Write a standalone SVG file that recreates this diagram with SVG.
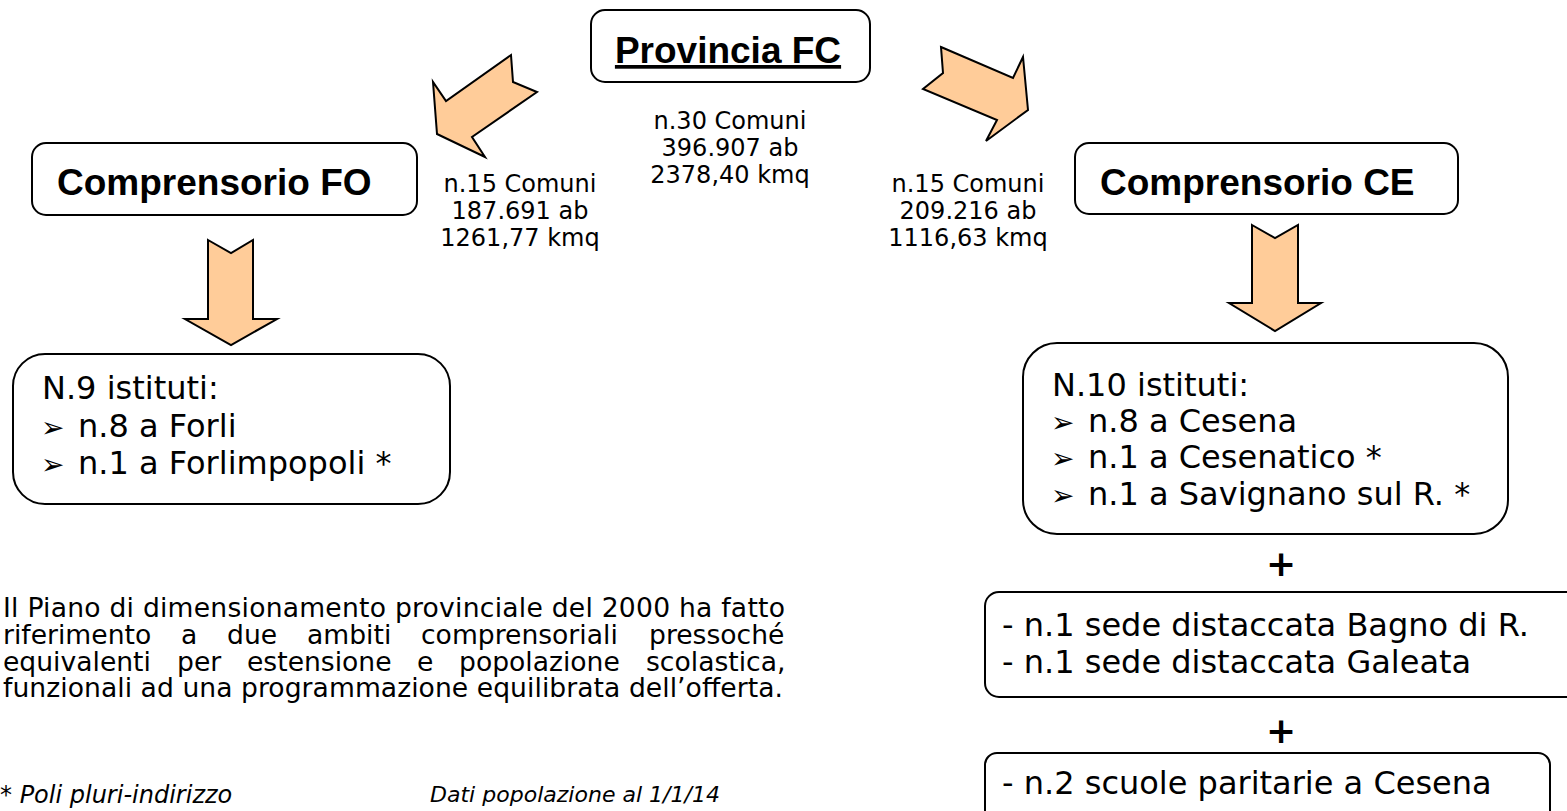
<svg xmlns="http://www.w3.org/2000/svg" width="1567" height="811" viewBox="0 0 1567 811">
<style>
.box{fill:#fff;stroke:#000;stroke-width:2}
.arrow{fill:#FFCC99;stroke:#000;stroke-width:2;stroke-linejoin:miter}
.title{font-family:"Liberation Sans",Arial,sans-serif;font-weight:bold;font-size:37px;fill:#000}
.info{font-family:"DejaVu Sans",Verdana,sans-serif;font-size:24px;fill:#000;text-anchor:middle}
.list{font-family:"DejaVu Sans",Verdana,sans-serif;font-size:32px;fill:#000}
.bul{font-size:28px}
.para{font-family:"DejaVu Sans",Verdana,sans-serif;font-size:26.6px;fill:#000}
.note{font-family:"DejaVu Sans",Verdana,sans-serif;font-style:italic;fill:#000}
.plus{font-family:"DejaVu Sans",Verdana,sans-serif;font-weight:bold;font-size:36px;fill:#000;text-anchor:middle}
</style>
<rect width="1567" height="811" fill="#fff"/>

<g id="connectors">
  <polygon class="arrow" points="437,134 433,82 446,101 511,55 513,82 537,92 472,137 485,157"/>
  <polygon class="arrow" points="941,47 1013,78 1023,57 1028,110 986,141 997,120 923,89 943,73"/>
  <polygon class="arrow" points="208,240 231,253 253,240 253,319 277,319 231,345 185,319 208,319"/>
  <polygon class="arrow" points="1252,225 1275,238 1298,225 1298,303 1321,303 1275,331 1229,303 1252,303"/>
</g>

<g id="provincia">
  <rect class="box" x="591" y="10" width="279" height="72" rx="14"/>
  <text class="title" x="728" y="63" text-anchor="middle" text-decoration="underline">Provincia FC</text>
</g>

<g id="info-fc">
  <text class="info" x="730" y="129">n.30 Comuni</text>
  <text class="info" x="730" y="156">396.907 ab</text>
  <text class="info" x="730" y="183">2378,40 kmq</text>
</g>

<g id="comprensorio-fo">
  <rect class="box" x="32" y="143" width="385" height="72" rx="14"/>
  <text class="title" x="57" y="195">Comprensorio FO</text>
</g>

<g id="info-fo">
  <text class="info" x="520" y="192">n.15 Comuni</text>
  <text class="info" x="520" y="219">187.691 ab</text>
  <text class="info" x="520" y="246">1261,77 kmq</text>
</g>

<g id="comprensorio-ce">
  <rect class="box" x="1075" y="143" width="383" height="71" rx="14"/>
  <text class="title" x="1100" y="195">Comprensorio CE</text>
</g>

<g id="info-ce">
  <text class="info" x="968" y="192">n.15 Comuni</text>
  <text class="info" x="968" y="219">209.216 ab</text>
  <text class="info" x="968" y="246">1116,63 kmq</text>
</g>

<g id="istituti-fo">
  <rect class="box" x="13" y="354" width="437" height="150" rx="32"/>
  <text class="list" x="42" y="399">N.9 istituti:</text>
  <text class="list" y="437"><tspan class="bul" x="41">➢</tspan><tspan x="78">n.8 a Forli</tspan></text>
  <text class="list" y="474"><tspan class="bul" x="41">➢</tspan><tspan x="78">n.1 a Forlimpopoli *</tspan></text>
</g>

<g id="istituti-ce">
  <rect class="box" x="1023" y="343" width="485" height="191" rx="34"/>
  <text class="list" x="1052" y="396">N.10 istituti:</text>
  <text class="list" y="432"><tspan class="bul" x="1051">➢</tspan><tspan x="1088">n.8 a Cesena</tspan></text>
  <text class="list" y="468"><tspan class="bul" x="1051">➢</tspan><tspan x="1088">n.1 a Cesenatico *</tspan></text>
  <text class="list" y="505"><tspan class="bul" x="1051">➢</tspan><tspan x="1088">n.1 a Savignano sul R. *</tspan></text>
</g>

<g id="plus1"><text class="plus" x="1281" y="576">+</text></g>

<g id="sedi">
  <rect class="box" x="985" y="592" width="640" height="105" rx="14"/>
  <text class="list" x="1002" y="636">- n.1 sede distaccata Bagno di R.</text>
  <text class="list" x="1002" y="673">- n.1 sede distaccata Galeata</text>
</g>

<g id="plus2"><text class="plus" x="1281" y="743">+</text></g>

<g id="paritarie">
  <rect class="box" x="985" y="753" width="565" height="80" rx="12"/>
  <text class="list" x="1002" y="794">- n.2 scuole paritarie a Cesena</text>
</g>

<g id="paragrafo">
  <text class="para" x="3" y="617" textLength="782" lengthAdjust="spacing">Il Piano di dimensionamento provinciale del 2000 ha fatto</text>
  <text class="para" y="644"><tspan x="3">riferimento</tspan><tspan x="181">a</tspan><tspan x="227">due</tspan><tspan x="307">ambiti</tspan><tspan x="421">comprensoriali</tspan><tspan x="649">pressoché</tspan></text>
  <text class="para" y="671"><tspan x="3">equivalenti</tspan><tspan x="177">per</tspan><tspan x="247">estensione</tspan><tspan x="417">e</tspan><tspan x="459">popolazione</tspan><tspan x="646">scolastica,</tspan></text>
  <text class="para" x="3" y="697" textLength="780" lengthAdjust="spacing">funzionali ad una programmazione equilibrata dell’offerta.</text>
</g>

<g id="note">
  <text class="note" x="0" y="803" font-size="24">* Poli pluri-indirizzo</text>
  <text class="note" x="430" y="802" font-size="21" textLength="290" lengthAdjust="spacingAndGlyphs">Dati popolazione al 1/1/14</text>
</g>
</svg>
